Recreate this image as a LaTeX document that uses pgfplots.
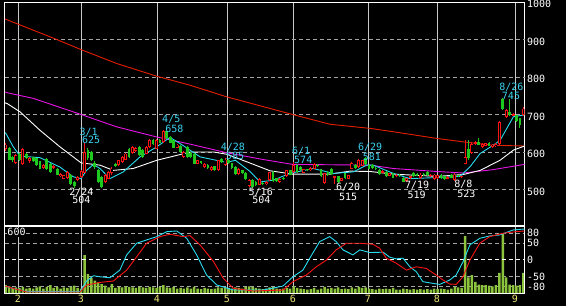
\documentclass[border=0pt]{standalone}
\usepackage{pgfplots}
\usepackage{pgfplotstable}
\usepackage{fontspec}
\pgfplotsset{compat=1.18}
\setmainfont{DejaVu Sans Mono}
\newfontfamily\mono{DejaVu Sans Mono}
\definecolor{cred}{RGB}{250,20,20}
\definecolor{cgreen}{RGB}{30,200,30}
\definecolor{volgreen}{RGB}{140,195,60}
\definecolor{macyan}{RGB}{40,220,240}
\definecolor{mamag}{RGB}{230,20,230}
\definecolor{mared}{RGB}{230,30,0}
\definecolor{gridgray}{RGB}{165,165,165}
\definecolor{monthgray}{RGB}{200,200,200}
\definecolor{labcyan}{RGB}{60,210,240}
\definecolor{monthyel}{RGB}{240,230,120}
\pgfplotstableread{
i o h l c v
0 607 623 604 620 70
1 611 613 578 580 60
2 587 589 573 579 45
3 571 596 568 593 50
4 596 598 576 578 45
5 568 611 566 609 55
6 596 598 581 583 40
7 577 586 570 584 45
8 586 588 573 575 40
9 583 585 563 565 50
10 575 577 554 556 60
11 558 567 556 565 40
12 582 585 553 556 55
13 569 571 545 547 70
14 558 565 556 563 45
15 556 558 538 540 55
16 536 544 534 542 40
17 529 540 527 538 50
18 531 549 529 547 45
19 540 542 512 516 55
20 520 524 504 510 65
21 525 536 523 534 45
22 534 551 532 549 40
23 545 625 543 600 340
24 605 610 580 583 170
25 600 603 575 578 135
26 571 575 556 560 110
27 552 555 517 520 95
28 534 536 504 507 80
29 520 541 517 538 65
30 529 549 527 547 50
31 543 560 540 556 80
32 569 571 560 563 45
33 565 580 563 578 55
34 574 589 572 587 50
35 580 598 578 596 60
36 609 611 585 587 55
37 598 616 596 614 50
38 603 613 601 611 45
39 614 616 590 592 55
40 605 607 585 587 50
41 596 616 594 614 45
42 614 634 612 632 55
43 632 635 619 621 50
44 609 634 607 632 45
45 632 636 623 625 55
46 627 658 625 655 70
47 655 657 635 637 50
48 640 642 623 625 45
49 631 633 610 612 55
50 612 622 610 620 40
51 617 619 598 600 45
52 587 602 585 600 40
53 614 616 585 587 50
54 598 600 585 588 40
55 596 598 567 569 55
56 569 580 567 578 40
57 575 577 568 570 35
58 560 571 558 569 45
59 565 567 555 557 40
60 551 562 549 560 35
61 562 564 550 552 40
62 551 580 549 578 50
63 582 585 572 574 45
64 565 585 563 580 50
65 580 582 568 570 45
66 570 572 556 558 40
67 560 562 540 542 50
68 542 557 540 555 45
69 551 553 542 544 40
70 545 547 525 527 55
71 510 527 506 525 60
72 525 527 504 508 55
73 520 522 510 513 45
74 513 531 511 529 40
75 518 520 512 514 35
76 515 523 513 521 40
77 525 548 523 546 50
78 548 550 520 522 55
79 530 532 520 522 40
80 520 531 518 529 35
81 531 533 525 527 40
82 535 553 533 551 45
83 551 553 538 540 40
84 547 574 545 565 60
85 565 567 545 547 45
86 560 562 549 551 40
87 545 556 543 554 35
88 554 556 549 551 30
89 552 560 550 558 35
90 556 572 554 569 45
91 566 568 560 562 30
92 554 556 534 536 40
93 517 545 515 543 55
94 547 549 536 538 40
95 556 558 540 542 45
96 530 537 515 535 40
97 535 537 518 520 50
98 524 532 522 530 35
99 543 545 529 531 40
100 529 540 527 538 35
101 556 573 554 571 50
102 565 567 555 557 40
103 560 581 558 578 55
104 564 580 562 578 45
105 585 588 565 567 50
106 565 567 554 556 40
107 565 567 556 558 35
108 558 560 552 554 30
109 553 555 540 542 40
110 545 552 543 550 35
111 547 549 534 536 40
112 537 545 535 543 35
113 543 545 530 532 45
114 535 541 533 539 30
115 539 541 534 536 30
116 532 534 519 521 40
117 522 532 519 530 35
118 530 537 528 535 30
119 545 547 533 535 35
120 542 544 535 537 30
121 530 543 528 540 35
122 541 543 536 538 30
123 548 550 536 539 35
124 535 542 533 540 30
125 527 542 525 540 40
126 531 540 529 538 35
127 539 541 529 531 40
128 535 537 525 527 35
129 529 536 527 534 30
130 539 541 530 532 40
131 525 543 523 540 55
132 538 540 533 535 50
133 533 537 531 535 45
134 569 633 567 587 510
135 607 631 580 583 140
136 598 626 596 622 160
137 622 630 620 627 100
138 627 638 618 620 75
139 614 624 612 622 70
140 617 625 615 623 70
141 625 627 615 617 65
142 614 622 612 620 60
143 615 623 613 621 70
144 622 682 620 680 180
145 742 745 712 715 530
146 693 714 690 712 140
147 708 742 697 700 75
148 697 705 695 702 70
149 698 700 681 683 65
150 690 692 664 672 70
151 698 720 696 716 180
}\candles
\tikzset{lab/.style={font=\mono\fontsize{10}{10}\selectfont, inner sep=0pt}}
\pgfplotsset{
  common/.style={scale only axis, width=519.5pt, xmin=-0.2, xmax=151.34,
    clip mode=individual, major tick length=0pt, tick style={draw=none},
    xtick={3.59,21.97,44.14,64.56,83.81,105.68,125.81,148.57},
    xticklabels={}, yticklabels={}},
  up/.style={restrict expr to domain={\thisrow{c}-\thisrow{o}}{0:2000}},
  down/.style={restrict expr to domain={\thisrow{o}-\thisrow{c}}{0.001:2000}},
}
\begin{document}
\begin{tikzpicture}
\useasboundingbox (0pt,0pt) rectangle (566pt,306pt);
\fill[black] (0pt,0pt) rectangle (566pt,306pt);
% ---------------- price panel
\begin{axis}[common, at={(5pt,80pt)}, anchor=south west, height=224pt,
  ymin=402.7, ymax=1000, ytick=\empty,
  axis line style={white, line width=1pt},
  xmajorgrids, major grid style={draw=monthgray, line width=0.8pt},
  extra y ticks={500,600,700,800,900}, extra y tick labels={},
  extra y tick style={grid=major, major grid style={draw=gridgray, line width=0.8pt, dash pattern=on 4pt off 3pt}},
]
% moving averages
\addplot[mared, line width=0.9pt] coordinates {(-0.2,955) (0.29,953) (14.9,900) (22.0,873) (32.4,836) (44.1,802) (53.8,778) (64.5,747) (83.7,700) (94.6,674) (106.3,663) (113.1,654) (125.9,636) (133.5,627) (142.2,618) (151.34,616)};
\addplot[mamag, line width=0.9pt] coordinates {(-0.2,760) (0.47,758) (8.05,743) (22.0,700) (32.4,667) (44.1,640) (50.8,627) (53.8,621) (64.5,598) (75.1,580) (83.7,567) (94.6,566) (106.3,565) (113.1,556) (125.9,548) (133.5,544) (142.2,553) (151.34,567)};
\addplot[white, line width=0.9pt] coordinates {(-0.2,731) (0.47,729) (4.2,707) (10.0,658) (15.8,614) (22.0,571) (27.5,565) (31.4,551) (37.2,556) (44.1,578) (50.8,593) (53.8,600) (60.6,600) (64.5,594) (70.3,574) (77.1,550) (83.7,541) (94.6,541) (100.4,549) (106.3,548) (113.1,541) (125.9,535) (133.5,540) (138.4,551) (144.2,578) (148.1,605) (151.34,616)};
\addplot[macyan, line width=0.9pt] coordinates {(-0.2,652) (0.09,649) (2.2,614) (4.2,589) (10.0,585) (15.8,560) (19.7,534) (22.0,529) (23.6,551) (25.6,567) (27.5,556) (30.4,529) (34.3,547) (39.2,587) (44.1,614) (47.9,639) (50.8,623) (56.7,587) (64.5,572) (67,578) (71.3,548) (74.2,520) (78.1,525) (82.9,543) (89.7,556) (95.6,543) (101.4,547) (105.3,565) (107.2,565) (113.1,543) (117.9,529) (125.9,532) (132.5,535) (135.4,560) (138.4,596) (142.2,618) (144.2,631) (148.1,694) (151.34,699)};
% candles: wicks
\addplot[cred, line width=1pt, up, quiver={u=0, v=\thisrow{h}-\thisrow{l}}] table[x=i, y=l] {\candles};
\addplot[cgreen, line width=1pt, down, quiver={u=0, v=\thisrow{h}-\thisrow{l}}] table[x=i, y=l] {\candles};
% bodies
\addplot[cgreen, line width=2.8pt, down, quiver={u=0, v=\thisrow{o}-\thisrow{c}}] table[x=i, y=c] {\candles};
\addplot[cred, line width=3pt, up, quiver={u=0, v=\thisrow{c}-\thisrow{o}}] table[x=i, y=o] {\candles};
\addplot[black, line width=1.2pt, up, quiver={u=0, v={max(\thisrow{c}-\thisrow{o}-5.3,0)}}] table[x=i, y expr=\thisrow{o}+2.67] {\candles};
% labels
\node[lab, text=labcyan] at (axis cs:24.2,653.6) {3/1};
\node[lab, text=labcyan] at (axis cs:24.9,631.5) {625};
\node[lab, text=white] at (axis cs:22.1,493.6) {2/24};
\node[lab, text=white] at (axis cs:22.1,471.5) {504};
\node[lab, text=labcyan] at (axis cs:48.3,686.7) {4/5};
\node[lab, text=labcyan] at (axis cs:49.2,662.7) {658};
\node[lab, text=labcyan] at (axis cs:66.3,613.6) {4/28};
\node[lab, text=labcyan] at (axis cs:66.9,588.8) {585};
\node[lab, text=white] at (axis cs:74.4,493.6) {5/16};
\node[lab, text=white] at (axis cs:74.6,471.5) {504};
\node[lab, text=labcyan] at (axis cs:86.2,603) {6/1};
\node[lab, text=labcyan] at (axis cs:86.8,580) {574};
\node[lab, text=white] at (axis cs:99.9,505.3) {6/20};
\node[lab, text=white] at (axis cs:99.9,480.3) {515};
\node[lab, text=labcyan] at (axis cs:106.3,613.6) {6/29};
\node[lab, text=labcyan] at (axis cs:106.8,587) {581};
\node[lab, text=white] at (axis cs:120.0,511.5) {7/19};
\node[lab, text=white] at (axis cs:119.9,484.8) {519};
\node[lab, text=white] at (axis cs:133.5,513.3) {8/8};
\node[lab, text=white] at (axis cs:134.4,489.3) {523};
\node[lab, text=labcyan] at (axis cs:147.5,772) {8/26};
\node[lab, text=labcyan] at (axis cs:147.4,748.8) {745};
% right scale
\node[lab, text=white, anchor=west, xshift=2.3pt, yshift=-2pt] at (axis cs:151.34,500) {500};
\node[lab, text=white, anchor=west, xshift=2.3pt, yshift=-2pt] at (axis cs:151.34,600) {600};
\node[lab, text=white, anchor=west, xshift=2.3pt, yshift=-2pt] at (axis cs:151.34,700) {700};
\node[lab, text=white, anchor=west, xshift=2.3pt, yshift=-2pt] at (axis cs:151.34,800) {800};
\node[lab, text=white, anchor=west, xshift=2.3pt, yshift=-2pt] at (axis cs:151.34,900) {900};
\node[lab, text=white, anchor=west, xshift=2.3pt, yshift=-2pt] at (axis cs:151.34,1000) {1000};
\end{axis}
% ---------------- volume (with grid of lower panel)
\begin{axis}[common, at={(5pt,13pt)}, anchor=south west, height=67pt,
  ymin=0, ymax=600, ytick=\empty,
  axis line style={draw=none},
  xmajorgrids, major grid style={draw=monthgray, line width=0.8pt},
  extra y ticks={59.4,148.5,445.5,534.7}, extra y tick labels={},
  extra y tick style={grid=major, major grid style={draw=gridgray, line width=0.8pt, dash pattern=on 4pt off 3pt}},
]
\addplot[ybar, bar width=2.5pt, fill=volgreen, draw=none] table[x=i, y=v] {\candles};
\end{axis}
% zero line
\begin{axis}[common, at={(5pt,13pt)}, anchor=south west, height=67pt,
  ymin=-100, ymax=102, ytick=\empty, axis line style={draw=none},
  extra y ticks={0}, extra y tick labels={},
  extra y tick style={grid=major, major grid style={draw=white, line width=0.8pt, dash pattern=on 4pt off 3pt}},
]
\end{axis}
% ---------------- oscillator
\begin{axis}[common, at={(5pt,13pt)}, anchor=south west, height=67pt,
  ymin=-100, ymax=102, ytick=\empty,
  axis line style={white, line width=1pt},
]
\addplot[macyan, line width=0.9pt] coordinates {(-0.2,-80) (3,-88) (6.1,-96) (21.7,-96) (23.6,-64) (25.6,-48) (27.5,-51) (30.4,-54) (33.3,-31) (35.3,15) (38.2,50) (41.1,60) (44.1,70) (47.0,85) (49.9,87) (52.8,65) (55.7,15) (58.6,-46) (61.6,-76) (66.4,-91) (75.1,-91) (80.9,-79) (83.8,-51) (86.7,-31) (88.7,5) (91.6,55) (94.5,70) (96.4,55) (98.4,30) (101.3,15) (103.3,30) (106.2,22) (110.1,23) (112.0,8) (113.9,3) (115.9,5) (117.9,-21) (119.8,-36) (121.7,-66) (124.6,-71) (126.6,-74) (129.5,-61) (131.4,-46) (133.4,-6) (135.4,45) (138.3,65) (141.2,72) (144.1,75) (148.0,90) (151.34,93)};
\addplot[cred, line width=0.9pt] coordinates {(-0.2,-79) (2.2,-86) (6.1,-97) (21.7,-97) (23.6,-76) (27.5,-68) (31.4,-64) (35.3,-31) (38.2,9) (41.1,50) (45.0,70) (47.9,77) (51.8,70) (53.8,73) (56.7,45) (60.6,-5) (63.5,-56) (66.4,-86) (72.2,-94) (80.9,-91) (83.8,-66) (87.7,-46) (90.6,-21) (93.5,-1) (96.4,30) (99.4,50) (103.3,50) (107.1,47) (109.1,35) (111.0,5) (113.9,-10) (116.9,-31) (119.8,-21) (122.7,-26) (125.6,-46) (127.6,-61) (129.5,-73) (131.4,-74) (133.4,-51) (135.4,-1) (138.3,50) (141.2,70) (145.0,80) (148.9,85) (151.34,87)};
\node[lab, text=white, fill=black, inner sep=0.6pt, anchor=north west, xshift=1.7pt, yshift=-1.6pt] at (axis cs:-0.2,102) {600};
\node[lab, text=white, anchor=west, xshift=2.3pt] at (axis cs:151.34,80) {80};
\node[lab, text=white, anchor=west, xshift=2.3pt] at (axis cs:151.34,50) {50};
\node[lab, text=white, anchor=west, xshift=2.3pt] at (axis cs:151.34,0) {0};
\node[lab, text=white, anchor=west, xshift=2.3pt] at (axis cs:151.34,-50) {-50};
\node[lab, text=white, anchor=west, xshift=2.3pt] at (axis cs:151.34,-80) {-80};
\node[lab, text=monthyel, anchor=north, yshift=-2.2pt] at (axis cs:3.59,-100) {2};
\node[lab, text=monthyel, anchor=north, yshift=-2.2pt] at (axis cs:21.97,-100) {3};
\node[lab, text=monthyel, anchor=north, yshift=-2.2pt] at (axis cs:44.14,-100) {4};
\node[lab, text=monthyel, anchor=north, yshift=-2.2pt] at (axis cs:64.56,-100) {5};
\node[lab, text=monthyel, anchor=north, yshift=-2.2pt] at (axis cs:83.81,-100) {6};
\node[lab, text=monthyel, anchor=north, yshift=-2.2pt] at (axis cs:105.68,-100) {7};
\node[lab, text=monthyel, anchor=north, yshift=-2.2pt] at (axis cs:125.81,-100) {8};
\node[lab, text=monthyel, anchor=north, yshift=-2.2pt] at (axis cs:148.57,-100) {9};
\end{axis}
\end{tikzpicture}
\end{document}
